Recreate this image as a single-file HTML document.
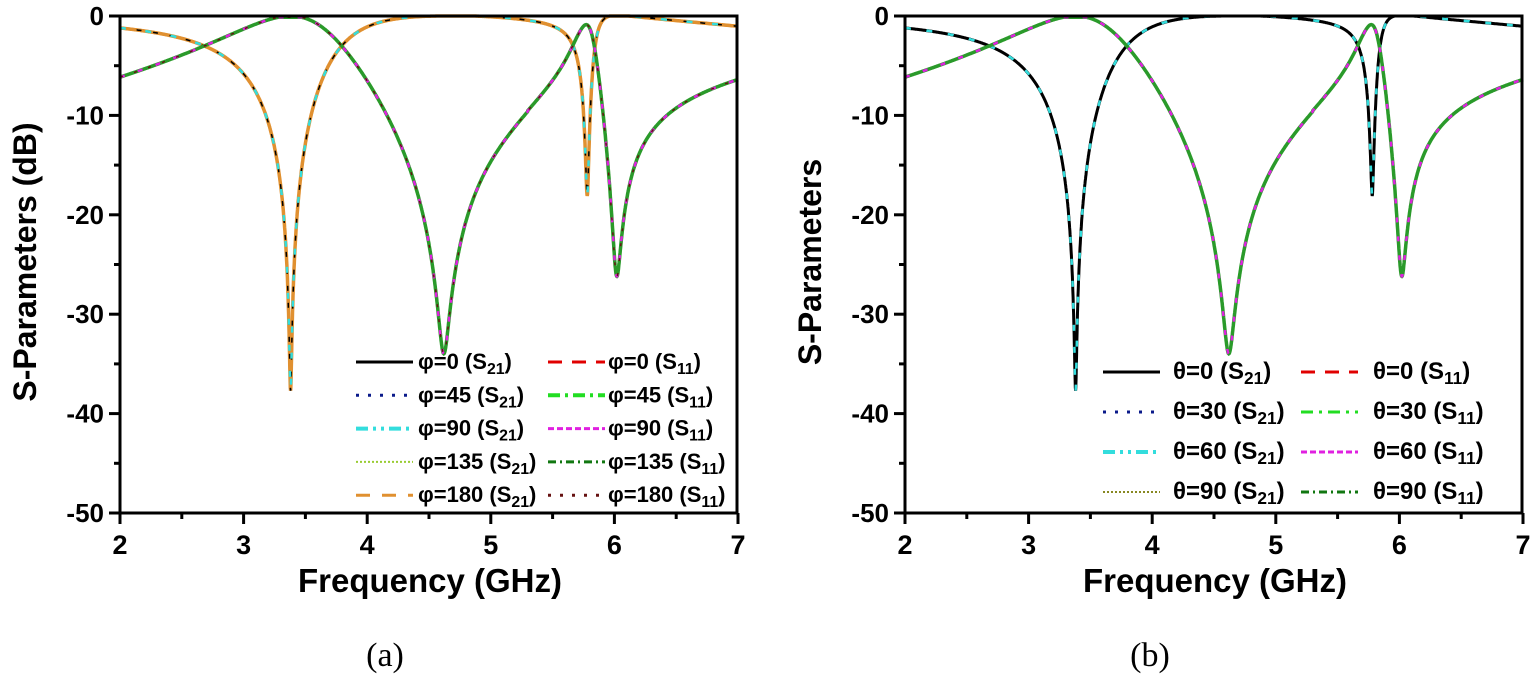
<!DOCTYPE html>
<html><head><meta charset="utf-8"><style>
body{margin:0;background:#fff;width:1533px;height:688px;overflow:hidden}
svg{position:absolute;left:0;top:0}
.t{font-family:"Liberation Sans",sans-serif;font-weight:bold}
</style></head><body>
<svg id="s" width="1533" height="688" xmlns="http://www.w3.org/2000/svg"></svg>
<script>
const S=document.getElementById('s');let h='';
function X(f,o){return o+120+(f-2)*123.6}
function Y(d){return 16+(-d)*9.94}
function K(f){const c=0.28*Math.exp(0.26*(f-2));let a=f-3.38,b=f-5.78;if(Math.abs(a)<1e-6)a=1e-6;if(Math.abs(b)<1e-6)b=1e-6;return c*(f-4.62)*(f-6.02)/(a*b);}
function s21(f){const k=K(f);let p=1/(1+k*k)+(f<4.6?1.7e-4:1.55e-2);return Math.max(-50,10*Math.log10(Math.min(p,0.999)));}
function s11(f){const k=K(f);let p=(k*k)/(1+k*k);if(!isFinite(p))p=1;p+=(f<5.3?4e-4:2.4e-3);p*=1-0.2*Math.exp(-Math.pow((f-5.8)/0.08,2));return Math.max(-50,10*Math.log10(Math.min(p,0.97)));}
function path(fn,o){let d='';for(let i=0;i<=2500;i++){const f=2+i*5/2500+1e-7;d+=(i?'L':'M')+X(f,o).toFixed(1)+' '+Y(fn(f)).toFixed(1);}return d;}
function panel(o,ylab,leg,cols21,cols11){
 const p21=path(s21,o),p11=path(s11,o);
 cols21.forEach(c=>h+=`<path d="${p21}" fill="none" stroke="${c[0]}" stroke-width="${c[1]}" stroke-dasharray="${c[2]}"/>`);
 cols11.forEach(c=>h+=`<path d="${p11}" fill="none" stroke="${c[0]}" stroke-width="${c[1]}" stroke-dasharray="${c[2]}"/>`);
 h+=`<rect x="${o+120}" y="16" width="${617}" height="497" fill="none" stroke="#000" stroke-width="3"/>`;
 for(let i=0;i<=10;i++){const f=2+i*0.5,x=X(f,o);h+=`<line x1="${x}" y1="513" x2="${x}" y2="${i%2?519:524}" stroke="#000" stroke-width="3"/>`;
  if(i%2==0)h+=`<text class="t" x="${x}" y="554" font-size="27" text-anchor="middle">${2+i/2}</text>`;}
 for(let i=0;i<=10;i++){const d=-i*5,y=Y(d);h+=`<line x1="${o+120}" y1="${y}" x2="${o+(i%2?114:109)}" y2="${y}" stroke="#000" stroke-width="3"/>`;
  if(i%2==0)h+=`<text class="t" x="${o+104}" y="${y+9}" font-size="26" text-anchor="end">${d}</text>`;}
 h+=`<text class="t" x="${o+430}" y="592" font-size="33" text-anchor="middle">Frequency (GHz)</text>`;
 h+=`<text class="t" transform="translate(${o+36},262) rotate(-90)" font-size="32" text-anchor="middle">${ylab}</text>`;
 h+=leg;
}
function legend(items,x1,x2,tx,y0,dy,fs){let s='';items.forEach((it,i)=>{const y=y0+dy*Math.floor(i/2);const c=i%2;const lx=c?x2:x1;
 s+=`<line x1="${lx}" y1="${y}" x2="${lx+57}" y2="${y}" stroke="${it[1]}" stroke-width="${it[2]}" stroke-dasharray="${it[3]}"/>`;
 s+=`<text class="t" x="${tx[c]}" y="${y+7}" font-size="${fs}">${it[0]} (S<tspan font-size="${fs*0.72}" dy="5">${it[4]}</tspan><tspan dy="-5">)</tspan></text>`;});return s;}
const la=legend([["φ=0","#000",3,"none","21"],["φ=0","#e00000",3,"14 10","11"],["φ=45","#0a1a8a",3,"3 9","21"],["φ=45","#22dd22",4,"12 5 3 5","11"],
["φ=90","#33dddd",4,"12 5 3 5 3 5","21"],["φ=90","#e020e0",3,"6 3","11"],["φ=135","#99cc33",2,"2 2","21"],["φ=135","#117711",3,"8 4 2 4","11"],
["φ=180","#e09030",3,"14 12","21"],["φ=180","#661111",3,"3 9","11"]],356,548,[418,608],362,33.3,22);
panel(0,"S-Parameters (dB)",la,[["#e09030",3.5,"none"],["#000",1.5,"5 12"],["#33dddd",2.5,"6 20"]],[["#2a9a2a",3.5,"none"],["#e020e0",2.5,"5 14"],["#661111",1.5,"3 12"]]);
const lb=legend([["θ=0","#000",3,"none","21"],["θ=0","#e00000",3,"14 10","11"],["θ=30","#0a1a8a",3,"3 9","21"],["θ=30","#22dd22",3,"12 6 3 6","11"],
["θ=60","#33dddd",4,"12 5 3 5 3 5","21"],["θ=60","#e020e0",3,"6 3","11"],["θ=90","#888822",2,"2 2","21"],["θ=90","#117711",3,"8 4 2 4","11"]],1103,1301,[1173,1373],372,40,24);
panel(785,"S-Parameters",lb,[["#000",3,"none"],["#33dddd",2.5,"6 16"]],[["#2a9a2a",3.5,"none"],["#e020e0",2.5,"5 14"]]);
h+=`<text x="385" y="666" font-family="Liberation Serif,serif" font-size="34" text-anchor="middle">(a)</text>`;
h+=`<text x="1150" y="666" font-family="Liberation Serif,serif" font-size="34" text-anchor="middle">(b)</text>`;
S.innerHTML=h;
</script>
</body></html>
